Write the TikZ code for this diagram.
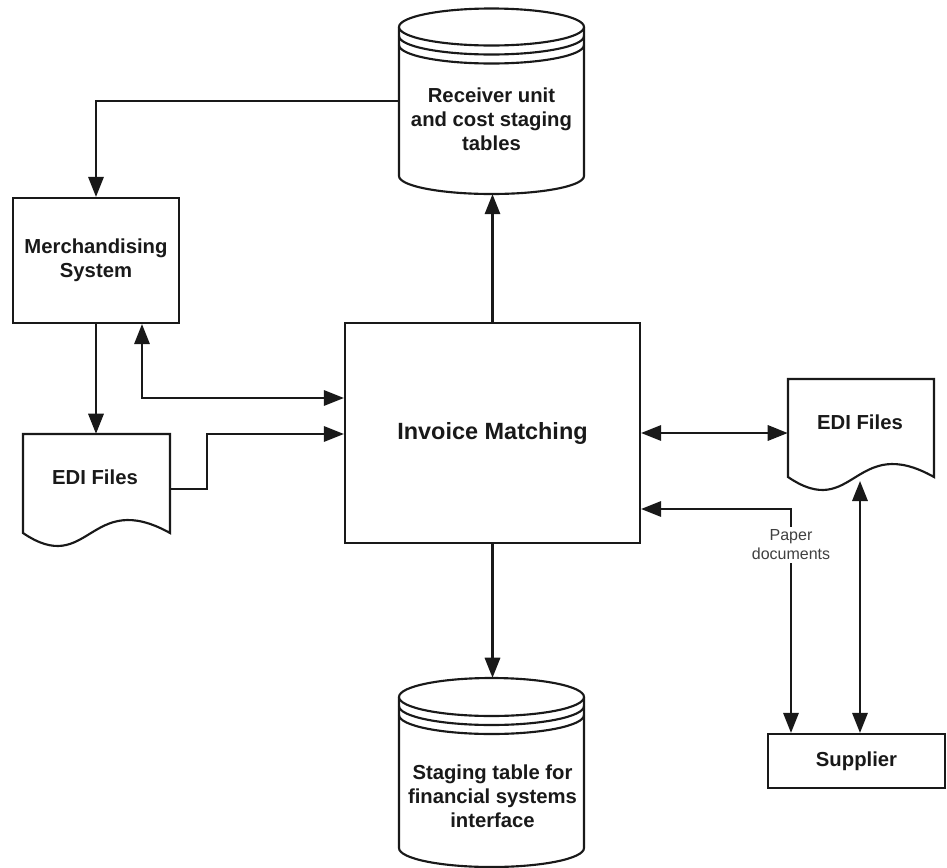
\documentclass[tikz,border=0pt]{standalone}
\usepackage{fontspec}
\setmainfont{Liberation Sans}
\usetikzlibrary{arrows.meta}
\tikzset{
  ink/.style={draw=black!90, line width=1.6pt},
  boxnode/.style={ink, rectangle, inner sep=0pt, fill=white},
  ghost/.style={rectangle, inner sep=0pt},
  lbl/.style={font=\bfseries\fontsize{15.2}{18}\selectfont, align=center, text=black!90, inner sep=0pt},
  arr/.style={ink, -{Triangle[length=15pt,width=11.5pt]}},
  both/.style={ink, {Triangle[length=15pt,width=11.5pt]}-{Triangle[length=15pt,width=11.5pt]}},
}
\begin{document}
\begin{tikzpicture}[x=0.75pt,y=-0.75pt]
\useasboundingbox (0,0) rectangle (947,868);

% ---------- top cylinder ----------
\draw[ink, fill=white] (399,27) -- (399,176) arc[start angle=180,end angle=0,x radius=92.5,y radius=18] -- (584,27);
\draw[ink, fill=white] (491.5,27) ellipse[x radius=92.5, y radius=18.5];
\draw[ink] (399,36) arc[start angle=180,end angle=0,x radius=92.5,y radius=18.5];
\draw[ink] (399,45) arc[start angle=180,end angle=0,x radius=92.5,y radius=18.5];
\node[ghost, minimum width=138.75pt, minimum height=139pt] (rcv) at (491.5,101.25) {};
\node[lbl] (rcvtxt) at (491.5,119) {Receiver unit\\and cost staging\\tables};

% ---------- bottom cylinder ----------
\draw[ink, fill=white] (399,697) -- (399,848) arc[start angle=180,end angle=0,x radius=92.5,y radius=19] -- (584,697);
\draw[ink, fill=white] (491.5,697) ellipse[x radius=92.5, y radius=19];
\draw[ink] (399,706) arc[start angle=180,end angle=0,x radius=92.5,y radius=19];
\draw[ink] (399,715) arc[start angle=180,end angle=0,x radius=92.5,y radius=19];
\node[ghost, minimum width=138.75pt, minimum height=141.75pt] (stg) at (491.5,772.5) {};
\node[lbl] (stgtxt) at (492.5,796) {Staging table for\\financial systems\\interface};

% ---------- boxes ----------
\node[boxnode, minimum width=124.5pt, minimum height=93.75pt, lbl, draw=black!90, line width=1.6pt] (merch) at (96,260.5) {Merchandising\\System};
\node[boxnode, minimum width=221.25pt, minimum height=165pt, font=\bfseries\fontsize{17.6}{20}\selectfont, text=black!90] (inv) at (492.5,433) {Invoice Matching};
\node[boxnode, minimum width=132.75pt, minimum height=40.5pt, lbl, draw=black!90, line width=1.6pt] (sup) at (856.5,761) {Supplier};

% ---------- documents ----------
\draw[ink, fill=white] (23,533) -- (23,434) -- (170,434) -- (170,533)
  .. controls (89.2,488) and (89.2,578) .. (23,533) -- cycle;
\node[ghost, minimum width=110.25pt, minimum height=74.25pt] (edi1) at (96.5,483.5) {};
\node[lbl] (edi1txt) at (95,477) {EDI Files};

\draw[ink, fill=white] (788,477) -- (788,379) -- (934,379) -- (934,477)
  .. controls (854,432) and (854,522) .. (788,477) -- cycle;
\node[ghost, minimum width=109.5pt, minimum height=73.5pt] (edi2) at (861,428) {};
\node[lbl] (edi2txt) at (860,422) {EDI Files};

% ---------- connectors ----------
\draw[arr] (rcv.west) -| (merch.north);
\draw[arr] (inv.north) -- (inv.north |- rcv.south);
\draw[arr] (inv.south) -- (inv.south |- stg.north);
\draw[arr] (merch.south) -- (merch.south |- edi1.north);

\coordinate (mb) at (142,398);
\draw[both] (mb |- merch.south) -- (mb) -- (mb -| inv.west);

\coordinate (e1o) at (170,489);
\coordinate (e1b) at (207,434);
\draw[arr] (e1o) -| (e1b) -- (e1b -| inv.west);

\draw[both] (inv.east) -- (inv.east -| edi2.west);

\coordinate (e2b) at (860,481);
\draw[both] (e2b) -- (e2b |- sup.north);

\coordinate (pd) at (791,509);
\draw[both] (pd -| inv.east) -- (pd) -- (pd |- sup.north);
\node[fill=white, inner sep=2pt, align=center, font=\fontsize{12}{14.25}\selectfont, text=black!75] (pdl) at (791,545) {Paper\\documents};

\end{tikzpicture}
\end{document}
